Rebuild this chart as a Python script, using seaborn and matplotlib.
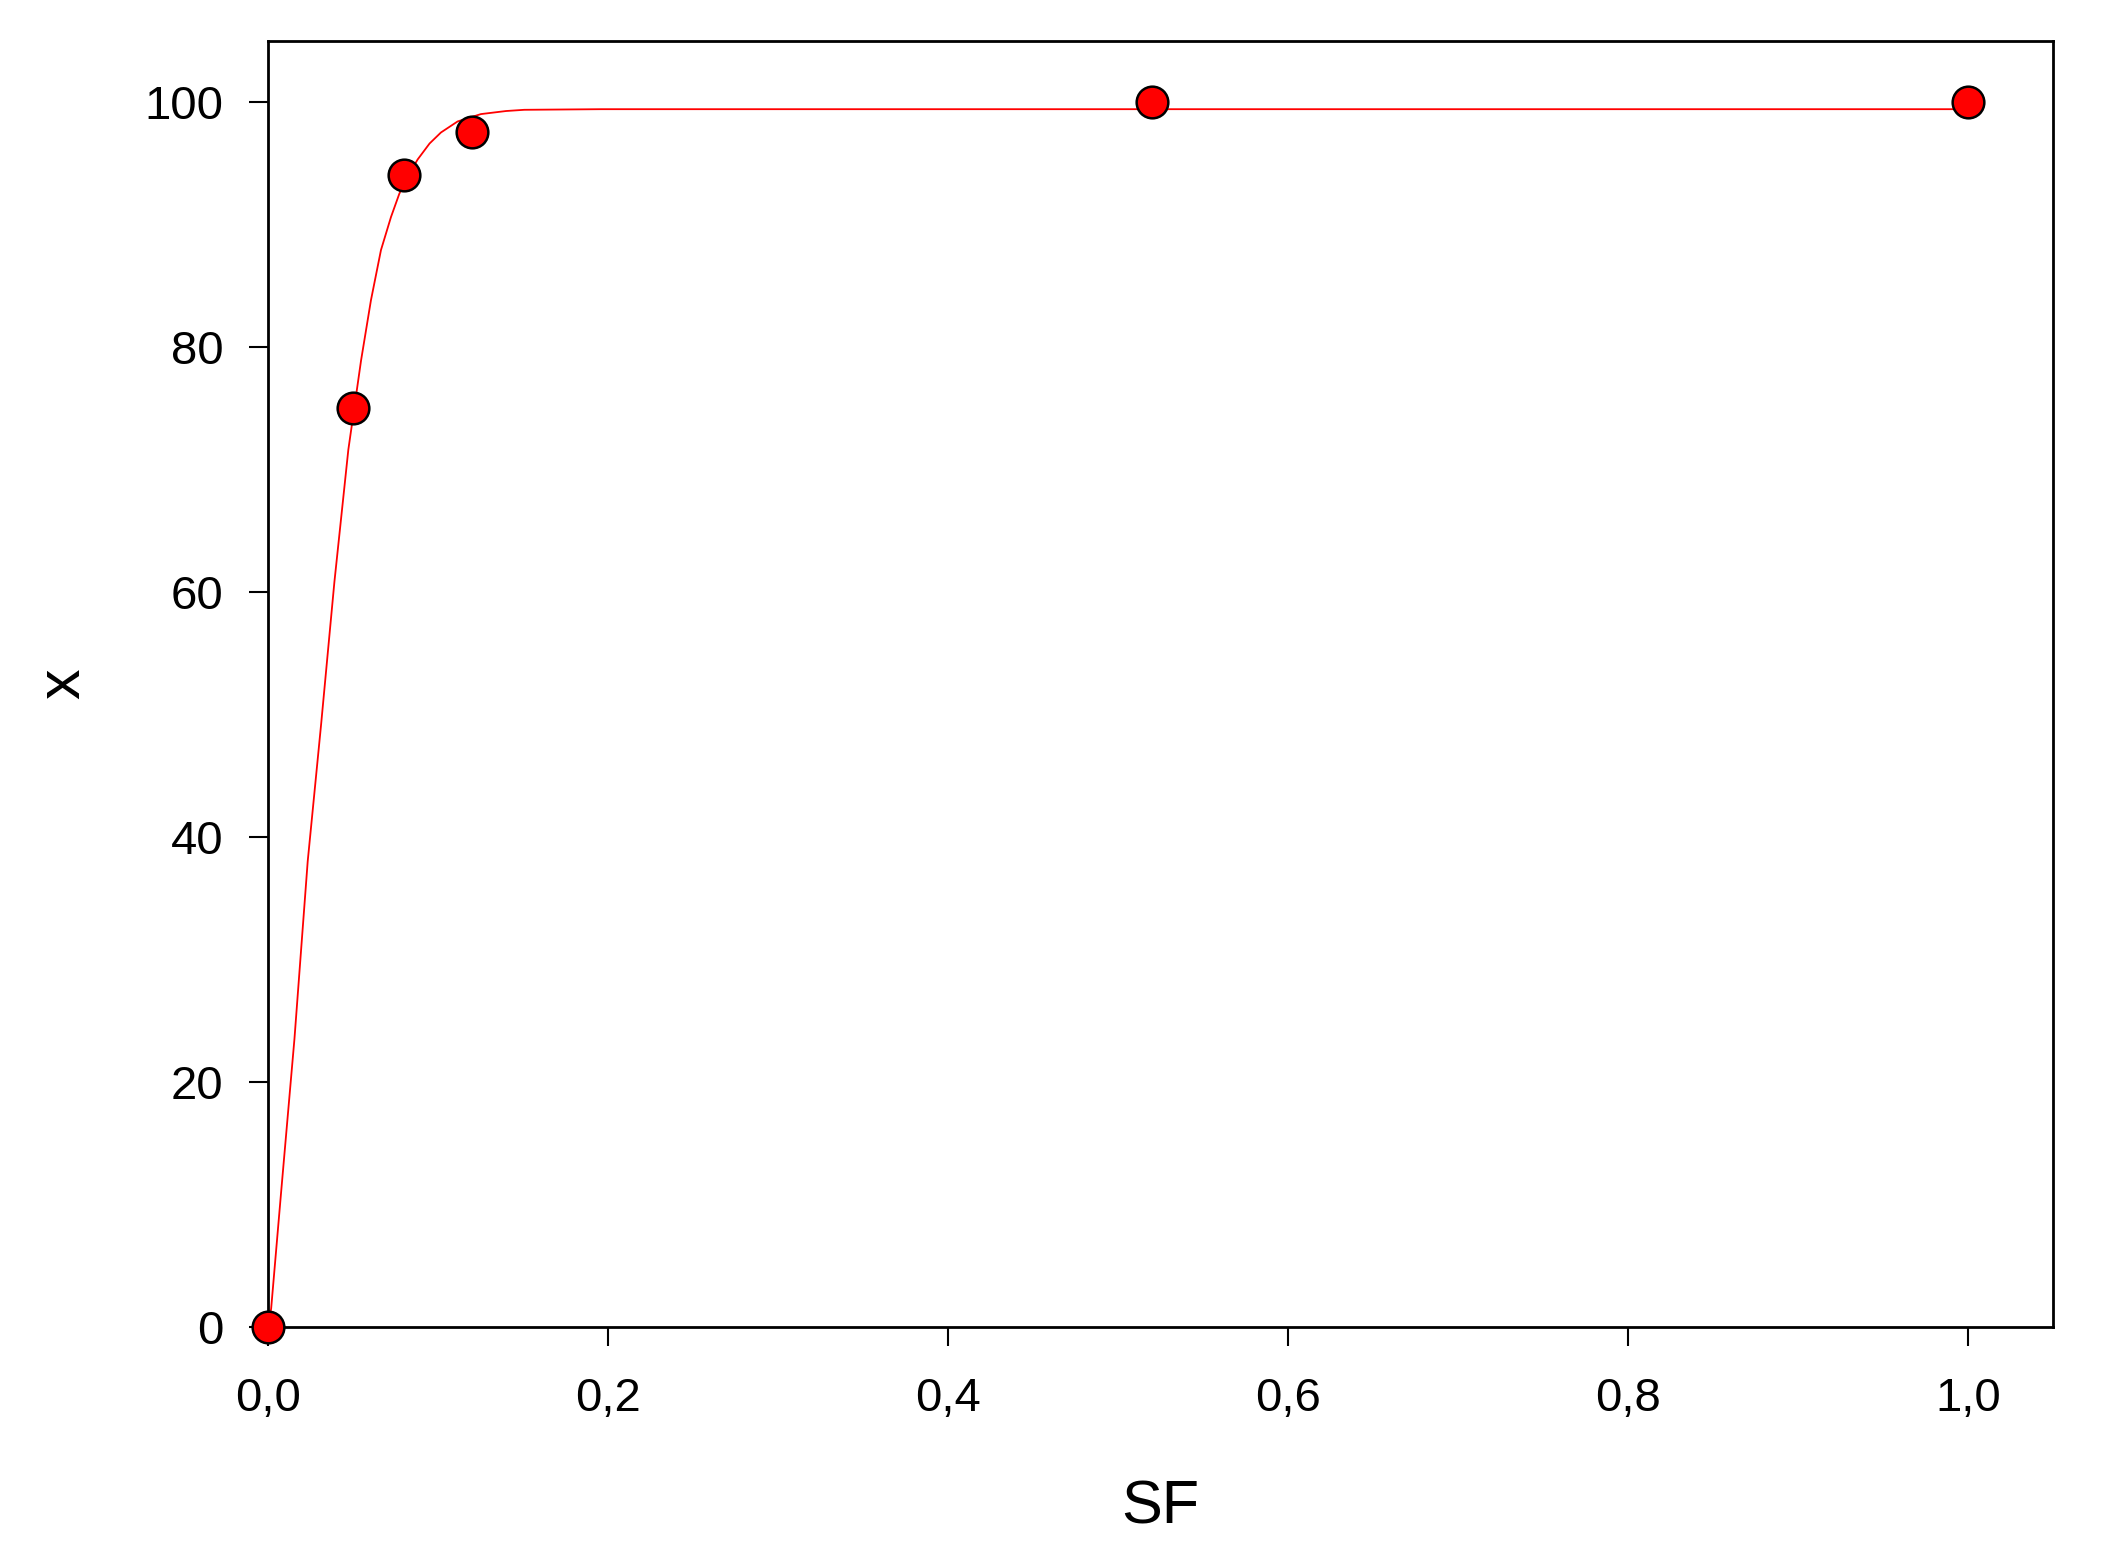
import matplotlib
matplotlib.use("Agg")
import matplotlib.pyplot as plt
import seaborn as sns
import pandas as pd

# measured points
sfPoints = [0.0, 0.05, 0.08, 0.12, 0.52, 1.0]
xPoints = [0.0, 75.0, 94.0, 97.5, 100.0, 100.0]

# fitted curve
sfCurve = [0.0, 0.0018, 0.0076, 0.0155, 0.0233, 0.0312, 0.039, 0.0472, 0.0547,
           0.0605, 0.0664, 0.0723, 0.0772, 0.082, 0.088, 0.095, 0.1017,
           0.1115, 0.1252, 0.14, 0.1507, 0.196, 0.52, 1.0]
xCurve = [0.0, 1.5, 10.9, 23.5, 38.0, 49.2, 60.8, 71.6, 78.9,
          83.8, 87.9, 90.6, 92.5, 93.9, 95.3, 96.6, 97.5,
          98.4, 99.0, 99.25, 99.35, 99.4, 99.4, 99.4]

xTicks = [0.0, 0.2, 0.4, 0.6, 0.8, 1.0]
xTickLabels = ["0,0", "0,2", "0,4", "0,6", "0,8", "1,0"]
yTicks = [0, 20, 40, 60, 80, 100]

sns.set_style("white")
plt.rcParams["font.family"] = ["Liberation Sans", "DejaVu Sans"]
plt.rcParams["text.color"] = "black"
plt.rcParams["axes.labelcolor"] = "black"
plt.rcParams["xtick.color"] = "black"
plt.rcParams["ytick.color"] = "black"

points = pd.DataFrame({"SF": sfPoints, "x": xPoints})
curve = pd.DataFrame({"SF": sfCurve, "x": xCurve})

fig = plt.figure(figsize=(21.11, 15.61), dpi=100)
ax = fig.add_axes([0.127, 0.150, 0.8455, 0.824])

sns.lineplot(data=curve, x="SF", y="x", ax=ax, color="red", linewidth=1.3,
             sort=False, estimator=None)
sns.scatterplot(data=points, x="SF", y="x", ax=ax, color="red", s=520,
                edgecolor="black", linewidth=1.8, zorder=5, clip_on=False)

ax.set_xlim(0, 1.05)
ax.set_ylim(0, 105)
ax.set_xticks(xTicks)
ax.set_xticklabels(xTickLabels)
ax.set_yticks(yTicks)

for side in ["left", "right", "top", "bottom"]:
    ax.spines[side].set_visible(True)
    ax.spines[side].set_color("black")
    ax.spines[side].set_linewidth(2.0)

ax.tick_params(axis="both", which="major", direction="out", length=14,
               width=1.5, colors="black", labelsize=34, bottom=True, left=True,
               top=False, right=False)
ax.tick_params(axis="x", pad=22)
ax.tick_params(axis="y", pad=18)

ax.set_xlabel("SF", fontsize=44, labelpad=42)
ax.set_ylabel("x", fontsize=44, labelpad=38)

fig.savefig("out.png", dpi=100, facecolor="white")
